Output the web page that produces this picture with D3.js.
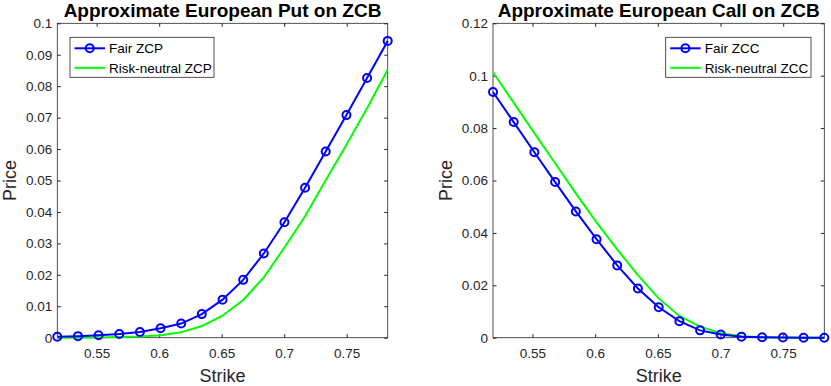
<!DOCTYPE html>
<html>
<head>
<meta charset="utf-8">
<script src="https://cdn.jsdelivr.net/npm/d3@7"></script>
<style>
  body { margin: 0; background: #fff; }
  svg { font-family: "Liberation Sans", Arial, sans-serif; }
  .tick text { fill: #262626; font-size: 13.5px; }
  .tick line { stroke: #262626; }
</style>
</head>
<body>
<svg id="chart" width="831" height="386"></svg>
<script>
// strikes shared by both panels
const strikes = [0.5185, 0.5350, 0.5515, 0.5681, 0.5846, 0.6011, 0.6176, 0.6341, 0.6507,
  0.6672, 0.6837, 0.7002, 0.7167, 0.7332, 0.7498, 0.7663, 0.7828];

const fairZCP = [0.0003, 0.0005, 0.0008, 0.0012, 0.0018, 0.0030, 0.0045, 0.0075, 0.0121,
  0.0184, 0.0268, 0.0367, 0.0477, 0.0592, 0.0708, 0.0826, 0.0944];
const riskNeutralZCP = [0, 0, 0.0001, 0.0002, 0.0004, 0.0008, 0.0017, 0.0037, 0.0070,
  0.0120, 0.0192, 0.0287, 0.0386, 0.0501, 0.0614, 0.0730, 0.0852];

const fairZCC = [0.0938, 0.0823, 0.0708, 0.0594, 0.0482, 0.0376, 0.0276, 0.0188, 0.0116,
  0.0063, 0.0028, 0.0012, 0.0004, 0.0002, 0.0001, 0, 0];
const riskNeutralZCC = [0.1013, 0.0897, 0.0781, 0.0666, 0.0551, 0.0440, 0.0337, 0.0239, 0.0150,
  0.0083, 0.0042, 0.0017, 0.0006, 0.0002, 0.0001, 0, 0];

const xTicks = [0.55, 0.6, 0.65, 0.7, 0.75];
const putYTicks = [0, 0.01, 0.02, 0.03, 0.04, 0.05, 0.06, 0.07, 0.08, 0.09, 0.1];
const callYTicks = [0, 0.02, 0.04, 0.06, 0.08, 0.1, 0.12];

const svg = d3.select("#chart");
const fmt = d3.format("~g");

const drawPanel = (props) => {
  const { left, right, top, bottom, yMax, yTicks, title, fair, riskNeutral, labels, legend } = props;

  const x = d3.scaleLinear().domain([strikes[0], strikes[strikes.length - 1]]).range([left, right]);
  const y = d3.scaleLinear().domain([0, yMax]).range([bottom, top]);
  const g = svg.append("g");

  // inward ticks on all four sides
  g.append("g").attr("transform", `translate(0,${bottom})`)
    .call(d3.axisBottom(x).tickValues(xTicks).tickFormat(fmt).tickSizeInner(-3.5).tickSizeOuter(0).tickPadding(11));
  g.append("g").attr("transform", `translate(0,${top})`)
    .call(d3.axisTop(x).tickValues(xTicks).tickFormat("").tickSizeInner(-3.5).tickSizeOuter(0));
  g.append("g").attr("transform", `translate(${left},0)`)
    .call(d3.axisLeft(y).tickValues(yTicks).tickFormat(fmt).tickSizeInner(-3.5).tickSizeOuter(0).tickPadding(5));
  g.append("g").attr("transform", `translate(${right},0)`)
    .call(d3.axisRight(y).tickValues(yTicks).tickFormat("").tickSizeInner(-3.5).tickSizeOuter(0));
  g.selectAll(".domain").remove();

  g.append("rect")
    .attr("x", left).attr("y", top)
    .attr("width", right - left).attr("height", bottom - top)
    .attr("fill", "none").attr("stroke", "#262626").attr("stroke-width", 0.8);

  const line = d3.line().x((d, i) => x(strikes[i])).y((d) => y(d));

  g.append("path").datum(riskNeutral)
    .attr("d", line).attr("fill", "none")
    .attr("stroke", "#00ff00").attr("stroke-width", 2);

  g.append("path").datum(fair)
    .attr("d", line).attr("fill", "none")
    .attr("stroke", "#0000ff").attr("stroke-width", 2);

  g.selectAll(".marker").data(fair).enter().append("circle")
    .attr("class", "marker")
    .attr("cx", (d, i) => x(strikes[i])).attr("cy", (d) => y(d))
    .attr("r", 4).attr("fill", "none")
    .attr("stroke", "#0000ff").attr("stroke-width", 2);

  // title and axis labels
  g.append("text")
    .attr("x", (left + right) / 2).attr("y", 16.5)
    .attr("text-anchor", "middle").attr("font-weight", "bold").attr("font-size", 19)
    .attr("fill", "#000").text(title);

  g.append("text")
    .attr("x", (left + right) / 2).attr("y", 382)
    .attr("text-anchor", "middle").attr("font-size", 18)
    .attr("fill", "#262626").text("Strike");

  g.append("text")
    .attr("transform", `translate(${left - 41.5},${(top + bottom) / 2}) rotate(-90)`)
    .attr("text-anchor", "middle").attr("font-size", 18)
    .attr("fill", "#262626").text("Price");

  // legend
  const lg = g.append("g").attr("transform", `translate(${legend.x},${legend.y})`);
  lg.append("rect")
    .attr("width", legend.w).attr("height", 40)
    .attr("fill", "#fff").attr("stroke", "#262626").attr("stroke-width", 0.8);

  const rows = [
    { label: labels[0], colour: "#0000ff", marker: true },
    { label: labels[1], colour: "#00ff00", marker: false },
  ];
  rows.forEach((r, i) => {
    const cy = 11 + i * 19.5;
    lg.append("line")
      .attr("x1", 4.5).attr("x2", 35).attr("y1", cy).attr("y2", cy)
      .attr("stroke", r.colour).attr("stroke-width", 2);
    if (r.marker) {
      lg.append("circle").attr("cx", 19.7).attr("cy", cy).attr("r", 4)
        .attr("fill", "none").attr("stroke", r.colour).attr("stroke-width", 2);
    }
    lg.append("text")
      .attr("x", 39).attr("y", cy + 4.8)
      .attr("font-size", 13.5).attr("fill", "#000").text(r.label);
  });
};

drawPanel({
  left: 57.3, right: 387.7, top: 23.3, bottom: 337.7,
  yMax: 0.1, yTicks: putYTicks,
  title: "Approximate European Put on ZCB",
  fair: fairZCP, riskNeutral: riskNeutralZCP,
  labels: ["Fair ZCP", "Risk-neutral ZCP"],
  legend: { x: 70, y: 37.3, w: 144 },
});

drawPanel({
  left: 493, right: 824.3, top: 23.3, bottom: 337.7,
  yMax: 0.12, yTicks: callYTicks,
  title: "Approximate European Call on ZCB",
  fair: fairZCC, riskNeutral: riskNeutralZCC,
  labels: ["Fair ZCC", "Risk-neutral ZCC"],
  legend: { x: 665.7, y: 37.3, w: 145.3 },
});
</script>
</body>
</html>
